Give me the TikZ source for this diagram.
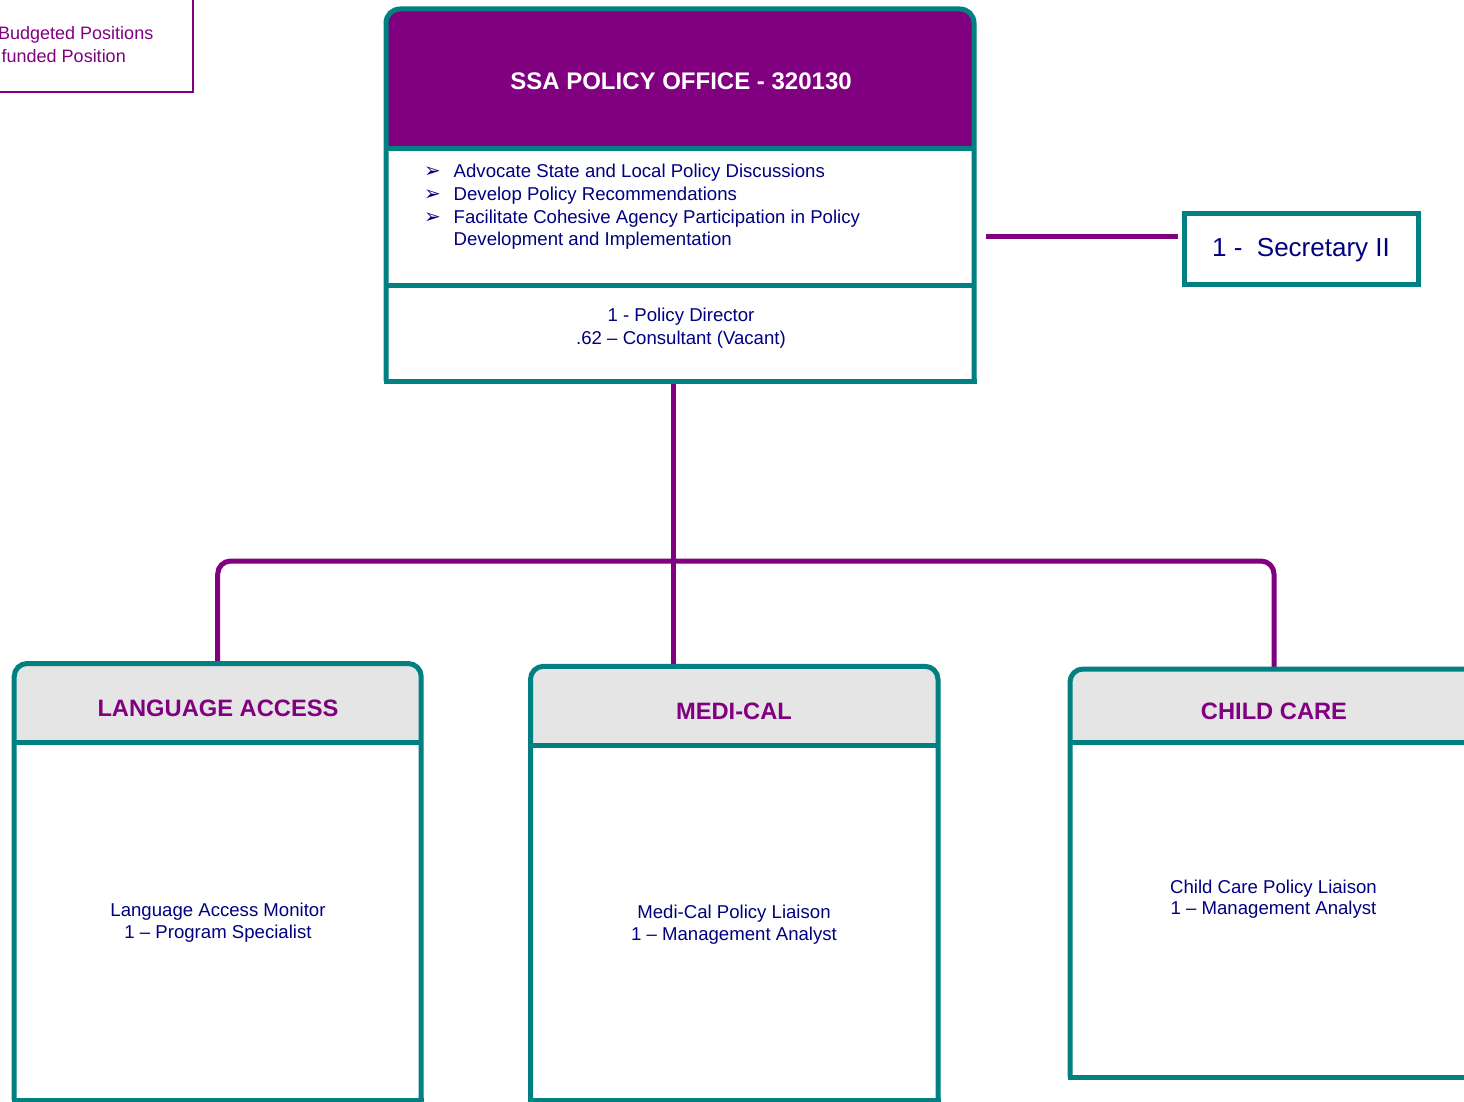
\documentclass[tikz,border=0pt]{standalone}
\usepackage{fontspec}
\setmainfont{Liberation Sans}
\newfontfamily\dejavu{DejaVu Sans}
\definecolor{tealc}{HTML}{008080}
\definecolor{purp}{HTML}{800080}
\definecolor{navyc}{HTML}{000080}
\definecolor{headgray}{HTML}{E5E5E5}
\newcommand\bodyfont{\fontsize{18.6}{21.7}\selectfont}
\newcommand\topfont{\fontsize{18.6}{22.6}\selectfont}
\newcommand\bul{{\dejavu\fontsize{20}{20}\selectfont ➢}}
\newcommand\orgframe[4]{% node, separator y, header fill, corner radius
  \fill[#3, rounded corners=#4] (#1.west |- 0,#2) -- (#1.north west) -- (#1.north east) -- (#1.east |- 0,#2);
  \draw[frame, rounded corners=#4] (#1.south west) -- (#1.north west) -- (#1.north east) -- (#1.south east);
  \draw[frame, line cap=rect] (#1.south west) -- (#1.south east);
  \draw[frame] (#1.west |- 0,#2) -- (#1.east |- 0,#2);}
\begin{document}
\begin{tikzpicture}[x=1pt,y=-1pt,
  frame/.style={draw=tealc, line width=5pt},
  conn/.style={draw=purp, line width=5pt},
  place/.style={draw=none, rectangle, inner sep=0pt, outer sep=0pt},
  body/.style={anchor=base, inner sep=0pt, text=navyc, font=\bodyfont},
  ttl/.style={anchor=base, inner sep=0pt, text=purp, font=\fontsize{23.7}{28}\selectfont\bfseries},
  legend/.style={anchor=base east, inner sep=0pt, text=purp, font=\fontsize{18}{21}\selectfont}]
\useasboundingbox (0,0) rectangle (1464,1102);
\clip (0,0) rectangle (1464,1102);

% legend (cut by the page edge)
\draw[purp, line width=2pt] (-20,-20) rectangle (193,92.5);
\node[legend] (leg1) at (153.5,39.3) {Budgeted Positions};
\node[legend] (leg2) at (126,62.3) {funded Position};

% box extents
\node[place, minimum width=588pt, minimum height=372pt] (office) at (680,195) {};
\node[place, minimum width=233.5pt, minimum height=71pt] (sec) at (1301.25,249) {};
\node[place, minimum width=407pt, minimum height=436.5pt] (lang) at (217.7,881.75) {};
\node[place, minimum width=407.5pt, minimum height=433.7pt] (medi) at (734.25,883.15) {};
\node[place, minimum width=408pt, minimum height=408pt] (child) at (1274,873) {};

% connectors
\coordinate (bus) at (673.8,561);
\coordinate (secy) at (1080,236.5);
\draw[conn] (office.south -| bus) -- (medi.north -| bus);
\draw[conn, rounded corners=13pt] (lang.north) |- (bus) -| (child.north);
\draw[conn, shorten <=12pt, shorten >=6.5pt] (office.east |- secy) -- (sec.west |- secy);

% frames
\orgframe{office}{148.5}{purp}{14pt}
\draw[frame] (office.west |- 0,285) -- (office.east |- 0,285);
\draw[frame] (sec.north west) rectangle (sec.south east);
\orgframe{lang}{742}{headgray}{13pt}
\orgframe{medi}{745}{headgray}{13pt}
\orgframe{child}{742.5}{headgray}{13pt}

% texts
\node[anchor=base, inner sep=0pt, text=white, font=\fontsize{24}{28}\selectfont\bfseries] (officet) at (681,90) {SSA POLICY OFFICE - 320130};
\node[anchor=base west, inner sep=0pt, text=navyc, font=\topfont] (duties) at (424,178)
  {\begin{tabular}[t]{@{}p{29.5pt}@{}l@{}}
   \bul & Advocate State and Local Policy Discussions\\
   \bul & Develop Policy Recommendations\\
   \bul & Facilitate Cohesive Agency Participation in Policy\\
        & Development and Implementation
   \end{tabular}};
\node[anchor=base, inner sep=0pt, text=navyc, font=\topfont] (staff) at (681,321.5)
  {\begin{tabular}[t]{@{}c@{}}1 - Policy Director\\ .62 – Consultant (Vacant)\end{tabular}};
\node[anchor=base, inner sep=0pt, text=navyc, font=\fontsize{26}{30}\selectfont] (sect) at (1301,256.7) {1 -\ \ Secretary II};

\node[ttl] (langt) at (218,716.3) {LANGUAGE ACCESS};
\node[ttl] (medit) at (734,719.2) {MEDI-CAL};
\node[ttl] (childt) at (1274,719) {CHILD CARE};

\node[body] (langb) at (218,916.3) {\begin{tabular}[t]{@{}c@{}}Language Access Monitor\\1 – Program Specialist\end{tabular}};
\node[body] (medib) at (734,918.8) {\begin{tabular}[t]{@{}c@{}}Medi-Cal Policy Liaison\\1 – Management Analyst\end{tabular}};
\node[body] (childb) at (1273.5,893) {\begin{tabular}[t]{@{}c@{}}Child Care Policy Liaison\\1 – Management Analyst\end{tabular}};
\end{tikzpicture}
\end{document}
